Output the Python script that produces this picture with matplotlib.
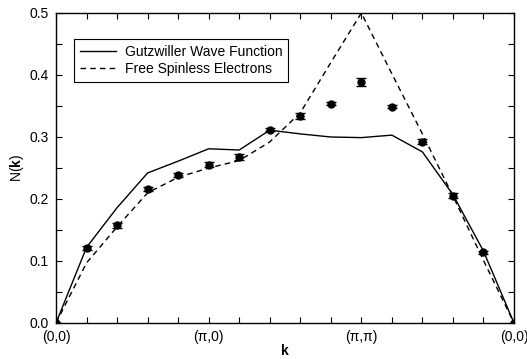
import matplotlib
matplotlib.use("Agg")
import matplotlib.pyplot as plt
from matplotlib.ticker import MultipleLocator, FormatStrFormatter

plt.rcParams['font.family'] = ['Liberation Sans', 'DejaVu Sans']
plt.rcParams['mathtext.fontset'] = 'custom'
plt.rcParams['mathtext.rm'] = 'Liberation Sans'
plt.rcParams['mathtext.bf'] = 'Liberation Sans:bold'

k_index = list(range(16))
tick_positions = [0, 5, 10, 15]
tick_labels = ['(0,0)', '(\u03c0,0)', '(\u03c0,\u03c0)', '(0,0)']

gutzwiller = [0.0, 0.122, 0.186, 0.242, 0.261, 0.281, 0.279, 0.311, 0.305,
              0.300, 0.299, 0.303, 0.276, 0.207, 0.116, 0.0]
free_spinless = [0.0, 0.097, 0.155, 0.210, 0.235, 0.250, 0.262, 0.292, 0.339,
                 0.420, 0.500, 0.402, 0.305, 0.205, 0.101, 0.0]
mc_values = [0.0, 0.121, 0.158, 0.216, 0.239, 0.255, 0.268, 0.312, 0.334,
             0.354, 0.389, 0.349, 0.292, 0.205, 0.114, 0.0]
mc_errors = [0.0, 0.003, 0.004, 0.003, 0.003, 0.004, 0.005, 0.003, 0.005,
             0.003, 0.006, 0.003, 0.004, 0.004, 0.002, 0.0]

fig = plt.figure(figsize=(5.27, 3.59), dpi=100)
ax = fig.add_axes([0.1063, 0.1003, 0.869, 0.8635])

ax.plot(k_index, gutzwiller, color='black', lw=1.0, ls='-',
        label='Gutzwiller Wave Function')
ax.plot(k_index, free_spinless, color='black', lw=1.0, ls=(0, (4, 3)),
        label='Free Spinless Electrons')
ax.errorbar(k_index, mc_values, yerr=mc_errors, fmt='o', color='black',
            ms=5, capsize=3.5, elinewidth=1.0, capthick=1.0, zorder=5)

ax.set_xlim(0, 15)
ax.set_ylim(0, 0.5)
ax.set_xticks(tick_positions)
ax.set_xticklabels(tick_labels)
ax.xaxis.set_minor_locator(MultipleLocator(1))
ax.yaxis.set_major_locator(MultipleLocator(0.1))
ax.yaxis.set_minor_locator(MultipleLocator(0.05))
ax.yaxis.set_major_formatter(FormatStrFormatter('%.1f'))

ax.tick_params(which='both', direction='in', top=True, right=True,
               labelsize=10, width=0.8)
ax.tick_params(which='major', length=4)
ax.tick_params(which='minor', length=4)
ax.tick_params(axis='x', which='major', pad=5)
ax.tick_params(axis='y', which='major', pad=5)
for s in ax.spines.values():
    s.set_linewidth(1.0)

ax.set_xlabel(r'$\mathbf{k}$', fontsize=10, labelpad=-1)
ax.set_ylabel(r'N($\mathbf{k}$)', fontsize=10, labelpad=3)

leg = ax.legend(loc='upper left', bbox_to_anchor=(0.039, 0.916),
                borderaxespad=0, fancybox=False, framealpha=1,
                edgecolor='black', fontsize=10, handlelength=2.6,
                handletextpad=0.6, borderpad=0.45, labelspacing=0.2)
leg.get_frame().set_linewidth(0.8)

fig.savefig('out.png', dpi=100)
